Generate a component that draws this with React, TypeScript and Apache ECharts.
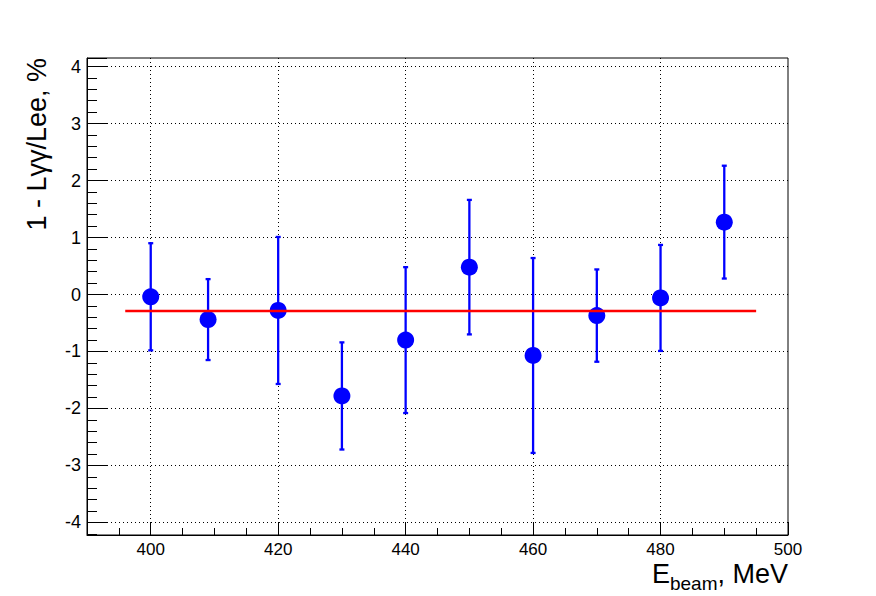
import React, { useEffect, useRef } from 'react';
import * as echarts from 'echarts';

// Data
const energies = [400, 409, 420, 430, 440, 450, 460, 470, 480, 490];
const values = [-0.04, -0.44, -0.28, -1.78, -0.8, 0.48, -1.07, -0.37, -0.06, 1.27];
const errors = [0.94, 0.71, 1.29, 0.94, 1.28, 1.18, 1.71, 0.81, 0.93, 0.99];
const fitRange = [396, 495];
const fitValue = -0.29;
const xRange = [390, 500];
const yRange = [-4.22, 4.15];
const yTitle = '1 - Lγγ/Lee, %';
const xTitleMain = 'E';
const xTitleSub = 'beam';
const xTitleRest = ', MeV';

const FONT = '"Liberation Sans", Arial, Helvetica, sans-serif';

function measure(text: string, font: string): number {
  const c = document.createElement('canvas');
  const ctx = c.getContext('2d');
  if (!ctx) return text.length * 12;
  ctx.font = font;
  return ctx.measureText(text).width;
}

export default function App() {
  const ref = useRef<HTMLDivElement>(null);
  useEffect(() => {
    if (!ref.current) return;
    const chart = echarts.init(ref.current, undefined, { renderer: 'svg' });
    const points = energies.map((x, i) => [x, values[i], errors[i]]);
    const fitData = fitRange.map((x) => [x, fitValue]);

    const mainFont = `27px ${FONT}`;
    const subFont = `19px ${FONT}`;
    const titleRight = 788;
    const wRest = measure(xTitleRest, mainFont);
    const wSub = measure(xTitleSub, subFont);
    const wMain = measure(xTitleMain, mainFont);
    const xRest = titleRight - wRest;
    const xSub = xRest - wSub;
    const xMain = xSub - wMain;

    const option: any = {
      animation: false,
      backgroundColor: '#ffffff',
      grid: {
        left: 87,
        right: 88,
        top: 58,
        bottom: 61,
        show: true,
        borderColor: '#000',
        borderWidth: 1,
        backgroundColor: 'transparent',
        containLabel: false,
        outerBoundsMode: 'none',
      },
      xAxis: {
        type: 'value',
        min: xRange[0],
        max: xRange[1],
        splitNumber: 5,
        axisLine: { show: true, onZero: false, lineStyle: { color: '#000', width: 1 } },
        axisTick: { show: true, inside: true, length: 13, lineStyle: { color: '#000', width: 1 } },
        minorTick: { show: true, splitNumber: 4, length: 7, lineStyle: { color: '#000', width: 1 } },
        axisLabel: {
          show: true,
          margin: 5,
          color: '#000',
          fontFamily: FONT,
          fontSize: 17,
          lineHeight: 19,
          showMinLabel: true,
          showMaxLabel: true,
          formatter: (v: number) => (Math.abs(v % 20) < 1e-9 ? String(v) : ''),
        },
        splitLine: {
          show: true,
          showMinLine: false,
          showMaxLine: false,
          lineStyle: { color: '#000', width: 1, type: [1, 3] },
        },
      },
      yAxis: {
        type: 'value',
        min: yRange[0],
        max: yRange[1],
        splitNumber: 8,
        axisLine: { show: true, onZero: false, lineStyle: { color: '#000', width: 1 } },
        axisTick: { show: true, inside: true, length: 20, lineStyle: { color: '#000', width: 1 } },
        minorTick: { show: true, splitNumber: 5, length: 10, lineStyle: { color: '#000', width: 1 } },
        axisLabel: {
          show: true,
          margin: 6,
          color: '#000',
          fontFamily: FONT,
          fontSize: 18,
          showMinLabel: true,
          showMaxLabel: true,
          formatter: (v: number) => {
            const r = Math.round(v);
            return Math.abs(v - r) < 1e-9 ? String(r === 0 ? 0 : r) : '';
          },
        },
        splitLine: {
          show: true,
          showMinLine: false,
          showMaxLine: false,
          lineStyle: { color: '#000', width: 1, type: [1, 3] },
        },
      },
      graphic: [
        {
          type: 'text',
          x: 37,
          y: 58,
          rotation: Math.PI / 2,
          style: {
            text: yTitle,
            font: `27px ${FONT}`,
            fill: '#000',
            textAlign: 'right',
            align: 'right',
            textVerticalAlign: 'middle',
            verticalAlign: 'middle',
          },
        },
        {
          type: 'text',
          x: xMain,
          y: 573.5,
          style: {
            text: xTitleMain,
            font: mainFont,
            fill: '#000',
            textAlign: 'left',
            align: 'left',
            textVerticalAlign: 'middle',
            verticalAlign: 'middle',
          },
        },
        {
          type: 'text',
          x: xSub,
          y: 583,
          style: {
            text: xTitleSub,
            font: subFont,
            fill: '#000',
            textAlign: 'left',
            align: 'left',
            textVerticalAlign: 'middle',
            verticalAlign: 'middle',
          },
        },
        {
          type: 'text',
          x: xRest,
          y: 573.5,
          style: {
            text: xTitleRest,
            font: mainFont,
            fill: '#000',
            textAlign: 'left',
            align: 'left',
            textVerticalAlign: 'middle',
            verticalAlign: 'middle',
          },
        },
      ],
      series: [
        {
          type: 'custom',
          name: 'errors',
          data: points,
          encode: { x: 0, y: 1 },
          z: 2,
          renderItem: (params: any, api: any) => {
            const x = api.value(0);
            const y = api.value(1);
            const e = api.value(2);
            const top = api.coord([x, y + e]);
            const bot = api.coord([x, y - e]);
            const cw = 2.5;
            const style = { stroke: '#0000ff', lineWidth: 2.3 };
            return {
              type: 'group',
              children: [
                { type: 'line', shape: { x1: top[0], y1: top[1], x2: bot[0], y2: bot[1] }, style },
                { type: 'line', shape: { x1: top[0] - cw, y1: top[1], x2: top[0] + cw, y2: top[1] }, style },
                { type: 'line', shape: { x1: bot[0] - cw, y1: bot[1], x2: bot[0] + cw, y2: bot[1] }, style },
              ],
            };
          },
        },
        {
          type: 'scatter',
          name: 'points',
          data: points.map((p) => [p[0], p[1]]),
          symbol: 'circle',
          symbolSize: 17,
          itemStyle: { color: '#0000ff', opacity: 1 },
          z: 3,
        },
        {
          type: 'line',
          name: 'fit',
          data: fitData,
          symbol: 'none',
          lineStyle: { color: '#ff0000', width: 2.5 },
          z: 4,
        },
      ],
    };
    chart.setOption(option);
    return () => chart.dispose();
  }, []);
  return (
    <div
      ref={ref}
      style={{ position: 'fixed', left: 0, top: 0, width: 876, height: 596, background: '#fff' }}
    />
  );
}
